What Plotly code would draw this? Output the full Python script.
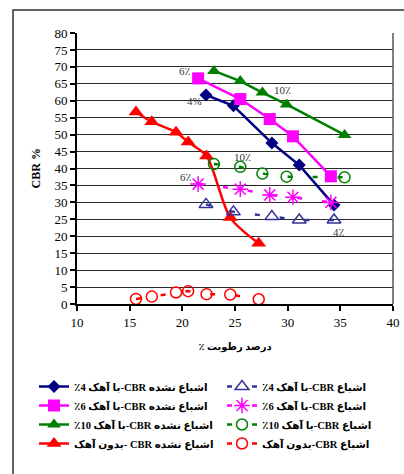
import plotly.graph_objects as go

# Moisture content (%) for each lime content
x_lime4 = [22.25, 24.85, 28.5, 31.1, 34.4]
x_lime6 = [21.5, 25.5, 28.3, 30.5, 34.1]
x_lime10 = [23.0, 25.5, 27.6, 29.9, 35.4]
x_nolime = [15.6, 17.1, 19.4, 20.55, 22.3, 24.55, 27.25]

# CBR (%) unsaturated
cbr_uns_4 = [61.7, 58.5, 47.5, 41.0, 29.2]
cbr_uns_6 = [66.6, 60.5, 54.6, 49.5, 37.7]
cbr_uns_10 = [68.8, 65.8, 62.4, 58.9, 49.9]
cbr_uns_0 = [56.7, 53.8, 50.7, 47.8, 43.7, 25.5, 17.9]

# CBR (%) saturated
cbr_sat_4 = [29.4, 27.2, 25.8, 24.8, 24.8]
cbr_sat_6 = [35.4, 33.9, 32.2, 31.5, 30.0]
cbr_sat_10 = [41.3, 40.5, 38.5, 37.6, 37.4]
cbr_sat_0 = [1.5, 2.2, 3.4, 3.8, 2.9, 2.8, 1.4]

RLE, PDF = "\u202b", "\u202c"


def rtl(s):
    return RLE + s + PDF


names_uns = [
    "اشباع نشده CBR-با آهک 4٪",
    "اشباع نشده CBR-با آهک 6٪",
    "اشباع نشده CBR-با آهک 10٪",
    "اشباع نشده CBR -بدون آهک",
]
names_sat = [
    "اشباع CBR-با آهک 4٪",
    "اشباع CBR-با آهک 6٪",
    "اشباع CBR-با آهک 10٪",
    "اشباع CBR-بدون آهک",
]

serif = "Liberation Serif, DejaVu Serif, DejaVu Sans"

fig = go.Figure()

uns_specs = [
    (x_lime4, cbr_uns_4, "#000080", "diamond", 10, "linear"),
    (x_lime6, cbr_uns_6, "#FF00FF", "square", 12, "linear"),
    (x_lime10, cbr_uns_10, "#008000", "triangle-up", 12, "linear"),
    (x_nolime, cbr_uns_0, "#FF0000", "triangle-up", 13, "spline"),
]
sat_specs = [
    (x_lime4, cbr_sat_4, "#333399", "triangle-up-open", 12),
    (x_lime6, cbr_sat_6, "#FF00FF", "asterisk-open", 13),
    (x_lime10, cbr_sat_10, "#008000", "circle-open", 11),
    (x_nolime, cbr_sat_0, "#FF0000", "circle-open", 11),
]

for i, (xs, ys, c, sym, sz, shape) in enumerate(uns_specs):
    fig.add_trace(go.Scatter(
        x=xs, y=ys, mode="lines+markers", name=rtl(names_uns[i]),
        line=dict(color=c, width=2.5, shape=shape, smoothing=0.8),
        marker=dict(symbol=sym, size=sz, color=c, line=dict(width=0)),
        legend="legend", legendgroup=f"u{i}",
    ))

for i, (xs, ys, c, sym, sz) in enumerate(sat_specs):
    fig.add_trace(go.Scatter(
        x=xs, y=ys, mode="lines+markers", name=rtl(names_sat[i]),
        line=dict(color=c, width=2.5, dash="5px,20px"),
        marker=dict(symbol=sym, size=sz, color=c, line=dict(width=1.5, color=c)),
        legend="legend2", legendgroup=f"s{i}",
    ))

# Lime content labels next to the curves
labels = [
    (21.2, 59.9, "4%"), (20.26, 68.7, "6٪"), (29.5, 63.1, "10٪"),
    (25.7, 43.4, "10٪"), (20.35, 37.5, "6٪"), (34.9, 21.2, "4٪"),
]
for lx, ly, lt in labels:
    fig.add_annotation(x=lx, y=ly, text=lt, showarrow=False,
                       font=dict(family=serif, size=11, color="#333333"))

# Vertical axis title
fig.add_annotation(xref="paper", yref="paper", x=-0.13, y=0.5, text="CBR %",
                   textangle=-90, showarrow=False, xanchor="center",
                   font=dict(family=serif, size=12, color="#000000", weight="bold"))

legend_common = dict(
    orientation="v", yanchor="top", xanchor="left",
    xref="container", yref="container",
    font=dict(family=serif, size=10.5, color="#000000", weight="bold"),
    itemwidth=30, tracegroupgap=9, bgcolor="rgba(0,0,0,0)",
    traceorder="normal",
)

fig.update_layout(
    width=404, height=474,
    margin=dict(l=77, r=11, t=33, b=170, autoexpand=False),
    paper_bgcolor="white", plot_bgcolor="white",
    showlegend=True,
    legend=dict(x=34 / 404, y=(474 - 372) / 474, **legend_common),
    legend2=dict(x=222 / 404, y=(474 - 372) / 474, **legend_common),
    xaxis=dict(
        range=[10, 40], tickvals=[10, 15, 20, 25, 30, 35, 40],
        showgrid=False, zeroline=False,
        showline=True, linecolor="#000000", linewidth=2,
        ticks="outside", ticklen=5, tickcolor="#000000", tickwidth=1.5,
        tickfont=dict(family=serif, size=13, color="#000000"),
        title=dict(text=rtl("درصد رطوبت ٪"), standoff=14,
                   font=dict(family=serif, size=10, color="#000000", weight="bold")),
    ),
    yaxis=dict(
        range=[0, 80], tickvals=list(range(0, 81, 5)),
        showgrid=True, gridcolor="#2a2a2a", gridwidth=1,
        zeroline=False,
        showline=True, linecolor="#000000", linewidth=2,
        ticks="outside", ticklen=5, tickcolor="#000000", tickwidth=1.5,
        tickfont=dict(family=serif, size=13, color="#000000"),
    ),
    shapes=[
        # right border of the plotting area
        dict(type="line", xref="paper", yref="paper", x0=1, x1=1, y0=0, y1=1,
             line=dict(color="#555555", width=1.5)),
        # outer chart frame
        dict(type="rect", xref="paper", yref="paper", x0=-0.2025, x1=1.2,
             y0=-0.7, y1=1.0849, line=dict(color="#333333", width=1.5),
             layer="below"),
    ],
)

fig.write_html("out.html")
